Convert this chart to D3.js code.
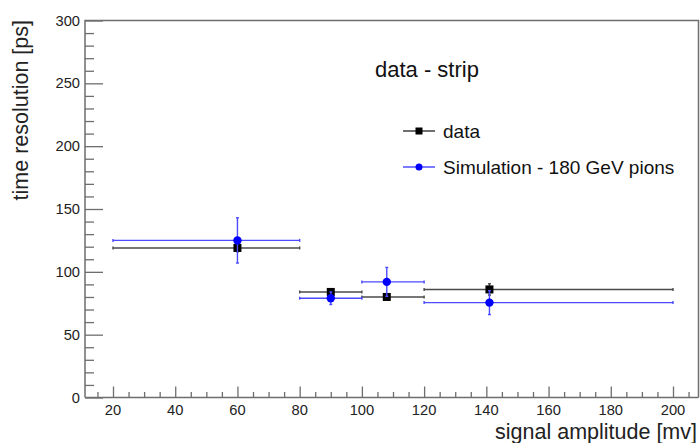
<!DOCTYPE html>
<html><head><meta charset="utf-8">
<script src="https://cdn.jsdelivr.net/npm/d3@7"></script>
<style>body{margin:0;background:#fff}svg{display:block}text{font-family:"Liberation Sans",Arial,sans-serif}</style>
</head><body>
<svg id="c" width="700" height="443"></svg>
<script>
// data: x, y, x-low, x-high, y-error
const dataX    = [60, 90, 108, 141];
const dataY    = [119, 84, 80, 86];
const dataXlo  = [20, 80, 100, 120];
const dataXhi  = [80, 100, 120, 200];
const dataYerr = [3, 2, 2, 4.5];

const simX    = [60, 90, 108, 141];
const simY    = [125, 79, 92, 75.5];
const simXlo  = [20, 80, 100, 120];
const simXhi  = [80, 100, 120, 200];
const simYerr = [18, 5, 11.5, 9.5];

const xTicks = [20, 40, 60, 80, 100, 120, 140, 160, 180, 200];
const yTicks = [0, 50, 100, 150, 200, 250, 300];

const svg = d3.select("#c");
const x = d3.scaleLinear().domain([11, 209]).range([85, 701]);
const y = d3.scaleLinear().domain([0, 300]).range([397.5, 20.5]);
const axisCol = "#6e6e6e";

// frame
svg.append("path").attr("d", `M85,397.5 V20.5 H698.5 V397.5`).attr("fill","none").attr("stroke",axisCol).attr("stroke-width",1.5);
svg.append("line").attr("x1",85).attr("x2",698.5).attr("y1",397.5).attr("y2",397.5).attr("stroke",axisCol).attr("stroke-width",1.5);

// x axis
const xMinor = d3.range(15, 206, 5).filter(v => v % 20 !== 0);
const gx = svg.append("g").attr("transform","translate(0,397.5)");
gx.call(d3.axisTop(x).tickValues(xTicks).tickSize(11).tickFormat(""))
  .call(g => g.select(".domain").remove())
  .call(g => g.selectAll("line").attr("stroke",axisCol).attr("stroke-width",1.3));
gx.append("g").call(d3.axisTop(x).tickValues(xMinor).tickSize(5.5).tickFormat(""))
  .call(g => g.select(".domain").remove())
  .call(g => g.selectAll("line").attr("stroke",axisCol).attr("stroke-width",1.3));
svg.append("g").selectAll("text").data(xTicks).join("text")
  .attr("x", d => x(d)).attr("y", 415).attr("text-anchor","middle")
  .attr("font-size",14.7).attr("fill","#222").text(d => d);

// y axis
const yMinor = d3.range(10, 300, 10).filter(v => v % 50 !== 0);
const gy = svg.append("g").attr("transform","translate(85,0)");
gy.call(d3.axisRight(y).tickValues(yTicks).tickSize(18).tickFormat(""))
  .call(g => g.select(".domain").remove())
  .call(g => g.selectAll("line").attr("stroke",axisCol).attr("stroke-width",1.3));
gy.append("g").call(d3.axisRight(y).tickValues(yMinor).tickSize(9).tickFormat(""))
  .call(g => g.select(".domain").remove())
  .call(g => g.selectAll("line").attr("stroke",axisCol).attr("stroke-width",1.3));
svg.append("g").selectAll("text").data(yTicks).join("text")
  .attr("x", 80).attr("y", d => y(d) + 5).attr("text-anchor","end")
  .attr("font-size",14.7).attr("fill","#222").text(d => d);

// axis titles
svg.append("text").attr("transform","translate(27.5,20) rotate(-90)").attr("text-anchor","end")
  .attr("font-size",21.5).attr("fill","#222").text("time resolution [ps]");
svg.append("text").attr("x",697).attr("y",439).attr("text-anchor","end")
  .attr("font-size",21.5).attr("fill","#222").text("signal amplitude [mv]");

function drawSeries(X, Y, XLo, XHi, YE, col, marker) {
  const g = svg.append("g");
  const idx = d3.range(X.length);
  g.selectAll(".h").data(idx).join("line")
    .attr("x1", i => x(XLo[i])).attr("x2", i => x(XHi[i]))
    .attr("y1", i => y(Y[i])).attr("y2", i => y(Y[i]))
    .attr("stroke", col).attr("stroke-width",1.4);
  g.selectAll(".v").data(idx).join("line")
    .attr("x1", i => x(X[i])).attr("x2", i => x(X[i]))
    .attr("y1", i => y(Y[i]-YE[i])).attr("y2", i => y(Y[i]+YE[i]))
    .attr("stroke", col).attr("stroke-width",1.4);
  // end caps
  idx.forEach(i => {
    [XLo[i], XHi[i]].forEach(v => g.append("line").attr("x1",x(v)).attr("x2",x(v))
      .attr("y1",y(Y[i])-1.5).attr("y2",y(Y[i])+1.5).attr("stroke",col).attr("stroke-width",1.4));
    [Y[i]-YE[i], Y[i]+YE[i]].forEach(v => g.append("line").attr("y1",y(v)).attr("y2",y(v))
      .attr("x1",x(X[i])-1.5).attr("x2",x(X[i])+1.5).attr("stroke",col).attr("stroke-width",1.4));
  });
  if (marker === "square") {
    g.selectAll(".m").data(idx).join("rect")
      .attr("x", i => x(X[i]) - 4).attr("y", i => y(Y[i]) - 4)
      .attr("width",8).attr("height",8).attr("fill","#000");
  } else {
    g.selectAll(".m").data(idx).join("circle")
      .attr("cx", i => x(X[i])).attr("cy", i => y(Y[i])).attr("r",4.2).attr("fill","#0000ff");
  }
}
drawSeries(dataX, dataY, dataXlo, dataXhi, dataYerr, "#4a4a4a", "square");
drawSeries(simX, simY, simXlo, simXhi, simYerr, "#4b4bff", "circle");

// title text
svg.append("text").attr("x",375).attr("y",77).attr("font-size",22).attr("fill","#111").text("data - strip");

// legend
const legend = [
  {label:"data", col:"#222", marker:"square", yy:131},
  {label:"Simulation - 180 GeV pions", col:"#3333ff", marker:"circle", yy:167}
];
legend.forEach(l => {
  svg.append("line").attr("x1",403).attr("x2",435).attr("y1",l.yy).attr("y2",l.yy).attr("stroke",l.col).attr("stroke-width",1.3);
  if (l.marker === "square") svg.append("rect").attr("x",415.5).attr("y",l.yy-3.5).attr("width",7).attr("height",7).attr("fill","#000");
  else svg.append("circle").attr("cx",419).attr("cy",l.yy).attr("r",3.5).attr("fill","#0000ff");
  svg.append("text").attr("x",443).attr("y",l.yy+6.5).attr("font-size",19).attr("fill","#111").text(l.label);
});
</script>
</body></html>
